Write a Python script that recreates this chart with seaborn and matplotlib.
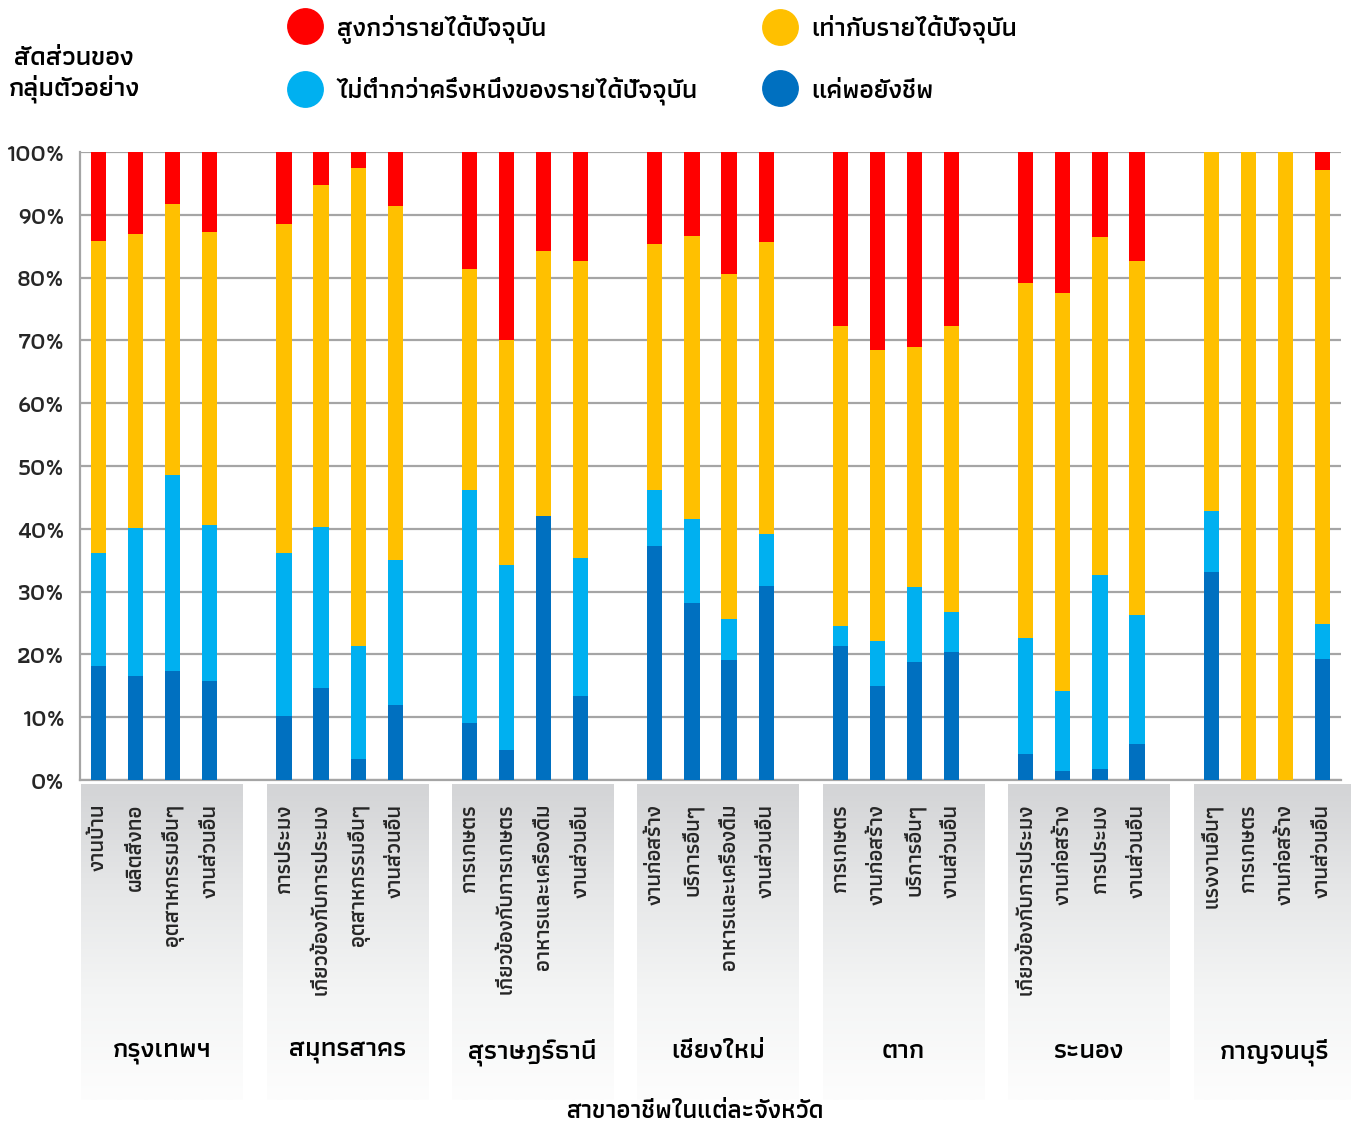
import numpy as np
import pandas as pd
import matplotlib
matplotlib.use("Agg")
import matplotlib.pyplot as plt
import seaborn as sns
from matplotlib.lines import Line2D

# ---------------- data ----------------
provinces = ["กรุงเทพฯ", "สมุทรสาคร", "สุราษฎร์ธานี", "เชียงใหม่", "ตาก", "ระนอง", "กาญจนบุรี"]
occupations = [
    ["งานบ้าน", "ผลิตสิ่งทอ", "อุตสาหกรรมอื่นๆ", "งานส่วนอื่น"],
    ["การประมง", "เกี่ยวข้องกับการประมง", "อุตสาหกรรมอื่นๆ", "งานส่วนอื่น"],
    ["การเกษตร", "เกี่ยวข้องกับการเกษตร", "อาหารและเครื่องดื่ม", "งานส่วนอื่น"],
    ["งานก่อสร้าง", "บริการอื่นๆ", "อาหารและเครื่องดื่ม", "งานส่วนอื่น"],
    ["การเกษตร", "งานก่อสร้าง", "บริการอื่นๆ", "งานส่วนอื่น"],
    ["เกี่ยวข้องกับการประมง", "งานก่อสร้าง", "การประมง", "งานส่วนอื่น"],
    ["แรงงานอื่นๆ", "การเกษตร", "งานก่อสร้าง", "งานส่วนอื่น"],
]
series_names = ["สูงกว่ารายได้ปัจจุบัน", "เท่ากับรายได้ปัจจุบัน",
                "ไม่ต่ำกว่าครึ่งหนึ่งของรายได้ปัจจุบัน", "แค่พอยังชีพ"]
y_title = "สัดส่วนของ\nกลุ่มตัวอย่าง"
x_title = "สาขาอาชีพในแต่ละจังหวัด"
y_ticks = [0, 10, 20, 30, 40, 50, 60, 70, 80, 90, 100]

# shares (%) per bar, in group order
subsistence = [18.2, 16.6, 17.4, 15.8,  10.2, 14.7, 3.3, 11.9,  9.1, 4.8, 42.0, 13.3,
               37.3, 28.2, 19.1, 30.9,  21.3, 14.9, 18.8, 20.4,  4.2, 1.4, 1.7, 5.8,
               33.2, 0.0, 0.0, 19.3]
half_income = [18.0, 23.5, 31.2, 24.8,  26.0, 25.6, 18.0, 23.2,  37.0, 29.5, 0.0, 22.1,
               8.8, 13.3, 6.6, 8.3,  3.3, 7.3, 11.9, 6.4,  18.4, 12.7, 30.9, 20.5,
               9.6, 0.0, 0.0, 5.5]
equal_income = [49.7, 46.8, 43.1, 46.7,  52.4, 54.4, 76.2, 56.3,  35.3, 35.8, 42.2, 47.2,
                39.2, 45.2, 54.9, 46.4,  47.7, 46.3, 38.3, 45.5,  56.6, 63.5, 53.9, 56.3,
                57.2, 100.0, 100.0, 72.3]
higher_income = [14.1, 13.1, 8.3, 12.7,  11.4, 5.3, 2.5, 8.6,  18.6, 29.9, 15.8, 17.4,
                 14.7, 13.3, 19.4, 14.4,  27.7, 31.5, 31.0, 27.7,  20.8, 22.4, 13.5, 17.4,
                 0.0, 0.0, 0.0, 2.9]

colors = ["#FF0000", "#FFC000", "#00B0F0", "#0070C0"]   # red, yellow, light blue, dark blue
GRID = "#A5A5A5"

# ---------------- style ----------------
sns.set_style("white")
plt.rcParams["font.family"] = ["Athiti", "Noto Sans Thai", "DejaVu Sans"]
plt.rcParams["font.weight"] = "semibold"
plt.rcParams["text.color"] = "black"

# ---------------- tidy frame ----------------
pos, labels = [], []
for g, occ in enumerate(occupations):
    for j, name in enumerate(occ):
        pos.append(g * 5 + j)
        labels.append(name)
df = pd.DataFrame({"pos": pos, "label": labels,
                   "dark": subsistence, "light": half_income,
                   "yellow": equal_income, "red": higher_income})
df["c_dark"] = df["dark"]
df["c_light"] = df["c_dark"] + df["light"]
df["c_yellow"] = df["c_light"] + df["yellow"]
df["c_red"] = df["c_yellow"] + df["red"]

W, H = 1351, 1128
fig = plt.figure(figsize=(W / 100, H / 100), dpi=100)
L, R, T, B = 80, 1341, 152, 780
nslots = 34
slot_px = (R - L) / nslots
ax = fig.add_axes([L / W, 1 - B / H, (R - L) / W, (B - T) / H])
# underlay axes for the shaded group boxes (extends to the right figure edge)
BT, BB = 784, 1100
ax2 = fig.add_axes([L / W, 1 - BB / H, (W - L) / W, (BB - BT) / H])
ax.set_zorder(2)
ax2.set_zorder(1)
ax.patch.set_alpha(0)

for col, c in zip(["c_red", "c_yellow", "c_light", "c_dark"], colors):
    sns.barplot(data=df, x="pos", y=col, native_scale=True, width=0.41, color=c,
                saturation=1, errorbar=None, ax=ax, zorder=3, linewidth=0)

ax.set_xlim(-0.5, nslots - 0.5)
ax.set_ylim(0, 100)
ax.set_axisbelow(True)
ax.yaxis.grid(True, color=GRID, linewidth=1.6)
ax.xaxis.grid(False)
for s in ["top", "right"]:
    ax.spines[s].set_visible(False)
for s in ["left", "bottom"]:
    ax.spines[s].set_color(GRID)
    ax.spines[s].set_linewidth(1.6)
ax.set_yticks(y_ticks)
ax.set_yticklabels([f"{v}%" for v in y_ticks], fontsize=17.5)
ax.tick_params(axis="y", length=7, width=1.3, color=GRID, pad=4)
ax.set_xticks(df["pos"])
ax.set_xticklabels(df["label"], rotation=90, va="top", ha="center", fontsize=15.7)
ax.set_xticks(np.arange(-0.5, nslots, 1), minor=True)
ax.tick_params(axis="x", which="major", length=0, pad=17)
ax.tick_params(axis="x", which="minor", length=5, width=1.3, color=GRID)
ax.set_xlabel("")
ax.set_ylabel("")

# gradient boxes + province names
grad = np.linspace(0, 1, 256).reshape(-1, 1)
cmap = matplotlib.colors.LinearSegmentedColormap.from_list(
    "g", ["#D3D4D6", "#E6E7E8", "#F4F5F5", "#FDFDFD"])
x_right = -0.5 + (W - L) / slot_px
for g, prov in enumerate(provinces):
    x0 = g * 5 - 0.47
    ax2.imshow(grad, cmap=cmap, aspect="auto", extent=(x0, x0 + 4.35, 1, 0.0),
               interpolation="bilinear", zorder=0)
    ax2.text(x0 + 4.35 / 2, (1052 - BT) / (BB - BT), prov, ha="center", va="center",
             fontsize=19.5)
ax2.set_xlim(-0.5, x_right)
ax2.set_ylim(1, 0)
ax2.axis("off")

fig.text(695 / W, 1 - 1112 / H, x_title, ha="center", va="center", fontsize=18.5)
fig.text(74 / W, 1 - 75 / H, y_title, ha="center", va="center",
         fontsize=19.5, multialignment="center", linespacing=1.2)

# legend: four entries placed on a 2 x 2 grid
fs = 19.0
fs_px = fs * 100 / 72
hl = 1.2
entries = [(0, 305, 29), (1, 780, 29), (2, 305, 91), (3, 780, 91)]
for i, xm, ym in entries:
    h = Line2D([], [], linestyle="none", marker="o", markersize=25.5,
               markerfacecolor=colors[i], markeredgecolor=colors[i])
    fig.legend([h], [series_names[i]], loc="center left",
               bbox_to_anchor=((xm - hl * fs_px / 2) / W, 1 - ym / H),
               frameon=False, fontsize=fs, handlelength=hl, handletextpad=0.6,
               borderpad=0, borderaxespad=0)

fig.savefig("out.png", dpi=100)
